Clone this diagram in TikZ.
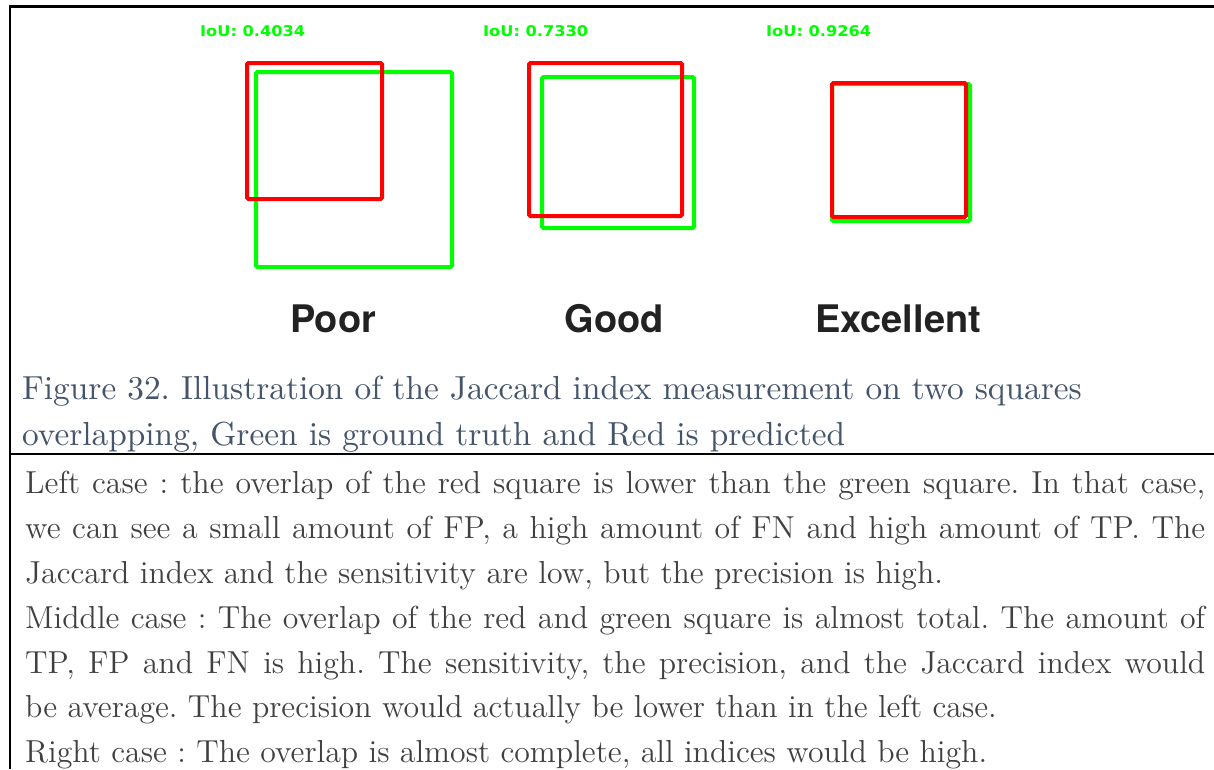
\documentclass[tikz,border=0pt]{standalone}
\usepackage{fontspec}
\newfontfamily\bodyf{lmroman12-regular}[Extension=.otf]
\newfontfamily\capf{lmroman10-regular}[Extension=.otf]
\newfontfamily\labf{TeX Gyre Heros}
\newfontfamily\iouf{DejaVu Sans}
\newlength\mylen
\definecolor{capc}{HTML}{44546A}
\definecolor{bodyc}{HTML}{404040}
\definecolor{labc}{HTML}{222222}
\definecolor{gr}{RGB}{0,255,0}
\definecolor{rd}{RGB}{255,0,0}
\begin{document}
\frenchspacing
\settowidth{\mylen}{\bodyf\fontsize{10}{12}\selectfont Right case : The overlap is almost complete, all indices would be high.}%
\pgfmathsetmacro{\bsz}{10*962/\mylen}%
\settowidth{\mylen}{\capf\fontsize{10}{12}\selectfont overlapping, Green is ground truth and Red is predicted}%
\pgfmathsetmacro{\csz}{10*823/\mylen}%
\settowidth{\mylen}{\labf\bfseries\fontsize{10}{12}\selectfont Excellent}%
\pgfmathsetmacro{\lsz}{10*166/\mylen}%
\begin{tikzpicture}[x=1pt,y=-1pt,
  border/.style={line width=2.5pt,black},
  gbox/.style={draw=gr,line width=4pt,rounded corners=1.5pt},
  rbox/.style={draw=rd,line width=4pt,rounded corners=1.5pt},
  iou/.style={anchor=base west,inner sep=0pt,text=gr,font=\iouf\bfseries},
  lab/.style={anchor=base,inner sep=0pt,text=labc,font=\labf\bfseries\fontsize{\lsz}{\lsz}\selectfont},
  captxt/.style={anchor=base west,inner sep=0pt,text=capc,font=\capf\fontsize{\csz}{\csz}\selectfont},
  body/.style={anchor=base west,inner sep=0pt,text=bodyc,font=\bodyf\fontsize{\bsz}{\bsz}\selectfont}]
\useasboundingbox (0,0) rectangle (1214,769);
% frame
\coordinate (tl) at (10,5.3);
\coordinate (tr) at (1214,6.5);
\coordinate (bl) at (10,769);
\coordinate (ml) at (10,454);
\coordinate (mr) at (1214,454);
\draw[border] (tl) -- (bl);
\draw[border] (tl |- tr) -- (tr);
\draw[border] (ml) -- (mr);
% squares
\draw[gbox] (256,72) rectangle (452,267);
\draw[rbox] (247,63) rectangle (382,199);
\draw[gbox] (542,77) rectangle (694,228);
\draw[rbox] (529,63) rectangle (682,216);
\draw[gbox] (832,84) rectangle (970,221);
\draw[rbox] (832,83) rectangle (966,217);
% IoU labels
\node[iou] (iou1) at (200,36) {\resizebox{105pt}{11pt}{IoU: 0.4034}};
\node[iou] (iou2) at (483,36) {\resizebox{105pt}{11pt}{IoU: 0.7330}};
\node[iou] (iou3) at (766,36) {\resizebox{105pt}{11pt}{IoU: 0.9264}};
% quality labels
\node[lab] (poor) at (333,332) {Poor};
\node[lab] (good) at (614.5,332) {Good};
\node[lab] (exc) at (898,332) {Excellent};
% caption
\node[captxt] (cap1) at (22,399) {Figure 32. Illustration of the Jaccard index measurement on two squares};
\node[captxt] (cap2) at (22,445) {overlapping, Green is ground truth and Red is predicted};
% body
\node[body] (l1) at (25,493) {\makebox[1180pt][s]{Left case : the overlap of the red square is lower than the green square. In that case,}};
\node[body] (l2) at (25,538) {\makebox[1180pt][s]{we can see a small amount of FP, a high amount of FN and high amount of TP. The}};
\node[body] (l3) at (25,583) {Jaccard index and the sensitivity are low, but the precision is high.};
\node[body] (l4) at (25,628) {\makebox[1180pt][s]{Middle case : The overlap of the red and green square is almost total. The amount of}};
\node[body] (l5) at (25,673) {\makebox[1180pt][s]{TP, FP and FN is high. The sensitivity, the precision, and the Jaccard index would}};
\node[body] (l6) at (25,717) {be average. The precision would actually be lower than in the left case.};
\node[body] (l7) at (25,762) {Right case : The overlap is almost complete, all indices would be high.};
\end{tikzpicture}
\end{document}
